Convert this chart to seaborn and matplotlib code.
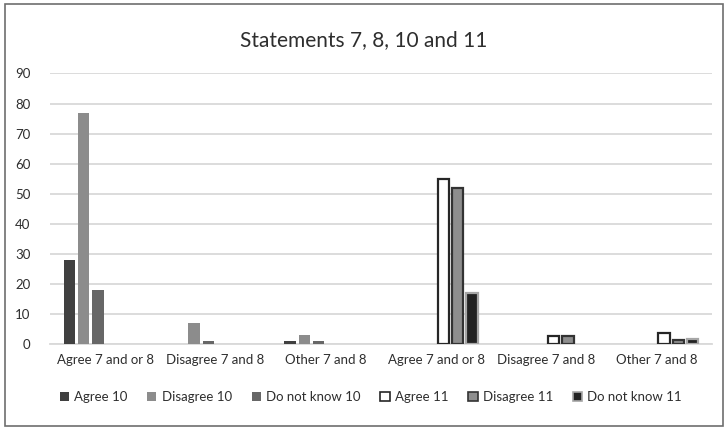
import numpy as np
import pandas as pd
import seaborn as sns
import matplotlib
matplotlib.use("Agg")
import matplotlib.pyplot as plt
from matplotlib.patches import Patch, Rectangle

nan = np.nan

# Category labels along the x axis (statements 7/8 grouped twice: vs. 10 and vs. 11)
categories = ["Agree 7 and or 8", "Disagree 7 and 8", "Other 7 and 8",
              "Agree 7 and or 8", "Disagree 7 and 8", "Other 7 and 8"]
series = ["Agree 10", "Disagree 10", "Do not know 10",
          "Agree 11", "Disagree 11", "Do not know 11"]

agree_10 = [28, nan, 1, nan, nan, nan]
disagree_10 = [77, 7, 3, nan, nan, nan]
dont_know_10 = [18, 1, 1, nan, nan, nan]
agree_11 = [nan, nan, nan, 55, 2.5, 3.6]
disagree_11 = [nan, nan, nan, 52, 2.5, 1.2]
dont_know_11 = [nan, nan, nan, 17, nan, 1.8]

title = "Statements 7, 8, 10 and 11"

values = [agree_10, disagree_10, dont_know_10, agree_11, disagree_11, dont_know_11]
rows = []
for name, vals in zip(series, values):
    for i, v in enumerate(vals):
        rows.append({"pos": i, "series": name, "value": v})
df = pd.DataFrame(rows).dropna()

face = {"Agree 10": "#404040", "Disagree 10": "#8c8c8c", "Do not know 10": "#676767",
        "Agree 11": "#ffffff", "Disagree 11": "#8e8e8e", "Do not know 11": "#222222"}
edge = {"Agree 10": "none", "Disagree 10": "none", "Do not know 10": "none",
        "Agree 11": "#262626", "Disagree 11": "#333333", "Do not know 11": "#a6a6a6"}

sns.set_theme(style="white")
plt.rcParams["font.family"] = ["Lato", "DejaVu Sans"]
text_color = "#2e2e2e"

fig = plt.figure(figsize=(7.27, 4.29), dpi=100)
ax = fig.add_axes([50 / 727, 85 / 429, 662 / 727, 270.5 / 429])

sns.barplot(data=df, x="pos", y="value", hue="series", hue_order=series,
            order=list(range(len(categories))), palette=face, saturation=1,
            width=0.78, gap=0.22, dodge=True, legend=False, ax=ax, zorder=3)

for name, cont in zip(series, ax.containers):
    for bar in cont:
        if edge[name] == "none":
            bar.set_linewidth(0)
        else:
            bar.set_edgecolor(edge[name])
            bar.set_linewidth(1.6)

ax.set_ylim(0, 90)
ax.set_xlim(-0.5, len(categories) - 0.5)
ax.set_yticks(range(0, 91, 10))
ax.yaxis.grid(True, color="#d9d9d9", linewidth=1.3, zorder=0)
ax.set_axisbelow(True)
ax.set_xticks(range(len(categories)))
ax.set_xticklabels(categories)
ax.tick_params(axis="both", length=0, labelsize=9.5, colors=text_color)
ax.tick_params(axis="x", pad=7)
ax.tick_params(axis="y", pad=14)
ax.set_xlabel("")
ax.set_ylabel("")
for s in ["top", "right", "left"]:
    ax.spines[s].set_visible(False)
ax.spines["bottom"].set_color("#d9d9d9")
ax.spines["bottom"].set_linewidth(1.3)

fig.text(0.5, 1 - 40 / 429, title, ha="center", va="center",
         fontsize=15, color=text_color)

handles = [Patch(facecolor=face[n], edgecolor=edge[n] if edge[n] != "none" else face[n],
                 linewidth=1.2 if edge[n] != "none" else 0) for n in series]
fig.legend(handles, series, loc="center", bbox_to_anchor=(0.51, 32 / 429), ncol=6,
           frameon=False, fontsize=9.5, handlelength=0.7, handleheight=0.7,
           handletextpad=0.4, columnspacing=1.5, labelcolor=text_color)

fig.patches.append(Rectangle((4.5 / 727, 3 / 429), 718 / 727, 422 / 429,
                             transform=fig.transFigure, fill=False,
                             edgecolor="#6e6e6e", linewidth=1.2))

fig.savefig("out.png", dpi=100)
